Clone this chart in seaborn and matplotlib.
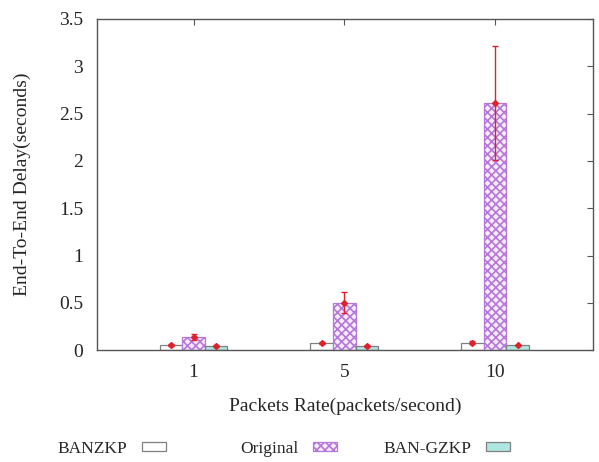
import pandas as pd
import seaborn as sns
import matplotlib.pyplot as plt
from matplotlib.patches import Patch
import numpy as np

# Data
rates = ['1', '5', '10']
schemes = ['BANZKP', 'Original', 'BAN-GZKP']
banzkp = [0.055, 0.075, 0.08]
original = [0.14, 0.50, 2.61]
bangzkp = [0.045, 0.045, 0.05]
banzkp_err = [0.01, 0.01, 0.015]
original_err = [0.035, 0.11, 0.60]
bangzkp_err = [0.01, 0.01, 0.01]

face = ['white', '#f6ecfb', '#aee6e2']
edge = ['#808080', '#b577d9', '#808080']
hatch = ['', 'xxxx', '']

df = pd.DataFrame({
    'rate': rates * 3,
    'scheme': np.repeat(schemes, 3),
    'delay': banzkp + original + bangzkp,
})
errs = [banzkp_err, original_err, bangzkp_err]

sns.set_style('white')
plt.rcParams['font.family'] = ['Liberation Serif', 'DejaVu Serif']
plt.rcParams['hatch.linewidth'] = 1.2

fig = plt.figure(figsize=(5.99, 4.62), dpi=100)
ax = fig.add_axes([0.162, 0.242, 0.828, 0.717])

sns.barplot(data=df, x='rate', y='delay', hue='scheme', order=rates,
            hue_order=schemes, width=0.45, errorbar=None,
            palette=face, legend=False, ax=ax)

bar_groups = list(ax.containers)
for i, cont in enumerate(bar_groups):
    for bar, e in zip(cont, errs[i]):
        bar.set_facecolor(face[i])
        bar.set_edgecolor(edge[i])
        bar.set_hatch(hatch[i])
        bar.set_linewidth(0.9)
        xc = bar.get_x() + bar.get_width() / 2
        ax.errorbar(xc, bar.get_height(), yerr=e, fmt='D', color='#e0202a',
                    markersize=3, elinewidth=1, capsize=2, capthick=1, zorder=5)

ax.set_xlim(-0.64, 2.65)
ax.set_ylim(0, 3.5)
ax.set_yticks(np.arange(0, 3.51, 0.5))
ax.set_yticklabels(['0', '0.5', '1', '1.5', '2', '2.5', '3', '3.5'])
ax.set_xlabel('Packets Rate(packets/second)', fontsize=14, labelpad=12)
ax.set_ylabel('End-To-End Delay(seconds)', fontsize=14, labelpad=20)
ax.tick_params(direction='in', length=4, width=0.8, color='#555555',
               top=True, right=True, labelsize=14, pad=10)
for s in ax.spines.values():
    s.set_color('#555555')
    s.set_linewidth(1)

# gnuplot-style key: text right-aligned, sample box after it, fixed columns
box_right = [0.277, 0.563, 0.851]
for i in range(3):
    h = Patch(facecolor=face[i], edgecolor=edge[i], hatch=hatch[i], linewidth=0.9)
    fig.legend([h], [schemes[i]], loc='center right',
               bbox_to_anchor=(box_right[i], 0.028), frameon=False,
               markerfirst=False, fontsize=12.5, handlelength=1.38,
               handleheight=0.4, handletextpad=0.85, borderpad=0,
               borderaxespad=0)

fig.savefig('out.png', dpi=100)
